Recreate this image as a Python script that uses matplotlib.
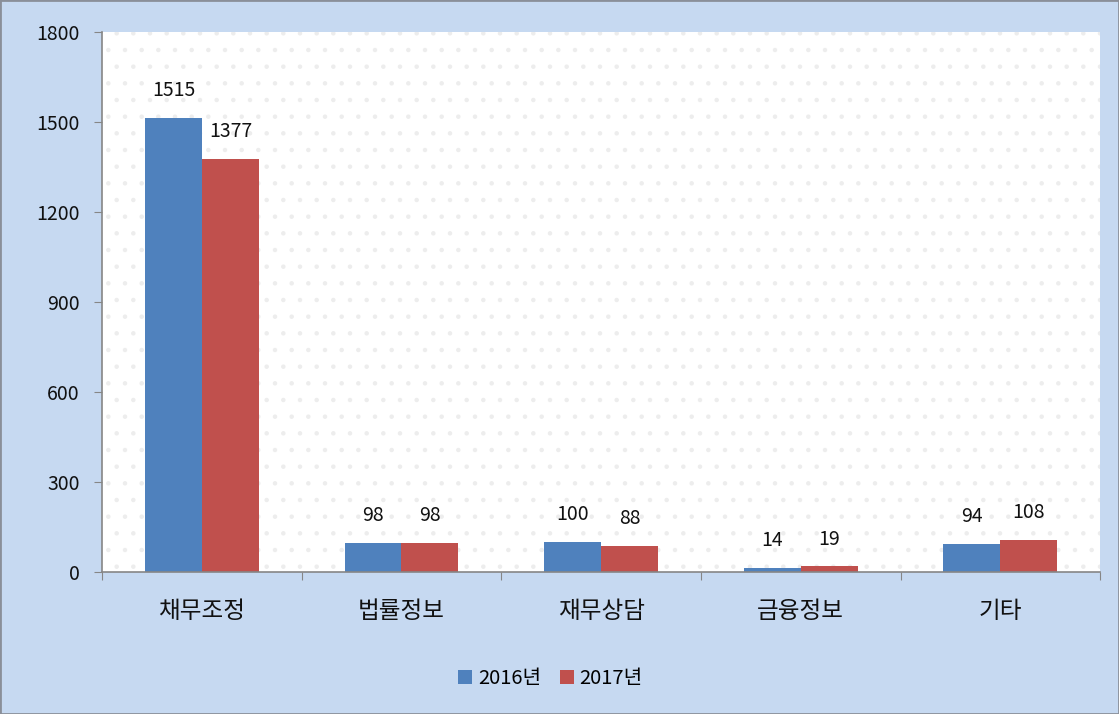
import numpy as np
import matplotlib
matplotlib.use('Agg')
import matplotlib.pyplot as plt
from matplotlib.patches import Rectangle

plt.rcParams['font.family'] = ['Noto Sans CJK KR', 'DejaVu Sans']
plt.rcParams['hatch.linewidth'] = 0.8

categories = ['채무조정', '법률정보', '재무상담', '금융정보', '기타']
values_2016 = [1515, 98, 100, 14, 94]
values_2017 = [1377, 98, 88, 19, 108]
series_labels = ['2016년', '2017년']
colors = ['#4f81bd', '#c0504d']
yticks = [0, 300, 600, 900, 1200, 1500, 1800]

fig = plt.figure(figsize=(11.19, 7.14), dpi=100)
fig.patch.set_facecolor('#c6d9f1')
fig.patches.append(Rectangle((0, 0), 1, 1, transform=fig.transFigure,
                             fill=False, edgecolor='#8a8f99', linewidth=2))

ax = fig.add_axes([0.0912, 0.199, 0.892, 0.756])
ax.set_facecolor('white')
# faint dotted background pattern
ax.add_patch(Rectangle((0, 0), 1, 1, transform=ax.transAxes, fill=False,
                       hatch='.', edgecolor='#ededed', linewidth=0, zorder=0))

x = np.arange(len(categories))
w = 0.285
bars1 = ax.bar(x - w / 2, values_2016, w, color=colors[0], label=series_labels[0], zorder=2)
bars2 = ax.bar(x + w / 2, values_2017, w, color=colors[1], label=series_labels[1], zorder=2)

for bars in (bars1, bars2):
    for b in bars:
        ax.annotate(f'{int(b.get_height())}',
                    xy=(b.get_x() + b.get_width() / 2, b.get_height()),
                    xytext=(0, 12), textcoords='offset points',
                    ha='center', va='bottom', fontsize=14, color='#111111')

ax.set_xlim(-0.5, len(categories) - 0.5)
ax.set_ylim(0, 1800)
ax.set_yticks(yticks)
ax.set_yticklabels([str(t) for t in yticks], fontsize=14, color='#111111')
ax.set_xticks(np.arange(len(categories) + 1) - 0.5)
ax.set_xticklabels([])
ax.set_xticks(x, minor=True)
ax.set_xticklabels(categories, minor=True, fontsize=17, color='#111111')
ax.tick_params(axis='x', which='minor', length=0, pad=20)
ax.tick_params(axis='x', which='major', length=6, color='#868686', direction='out')
ax.tick_params(axis='y', length=6, color='#868686', direction='out', pad=10)

for side in ['top', 'right']:
    ax.spines[side].set_visible(False)
for side in ['left', 'bottom']:
    ax.spines[side].set_color('#868686')
    ax.spines[side].set_linewidth(1.2)

fig.legend(loc='center', bbox_to_anchor=(0.492, 0.05), ncol=2, frameon=False,
           fontsize=14.5, handlelength=0.7, handleheight=0.7, handletextpad=0.3,
           columnspacing=0.9)

plt.savefig('out.png', dpi=100, facecolor=fig.get_facecolor())
plt.close()
